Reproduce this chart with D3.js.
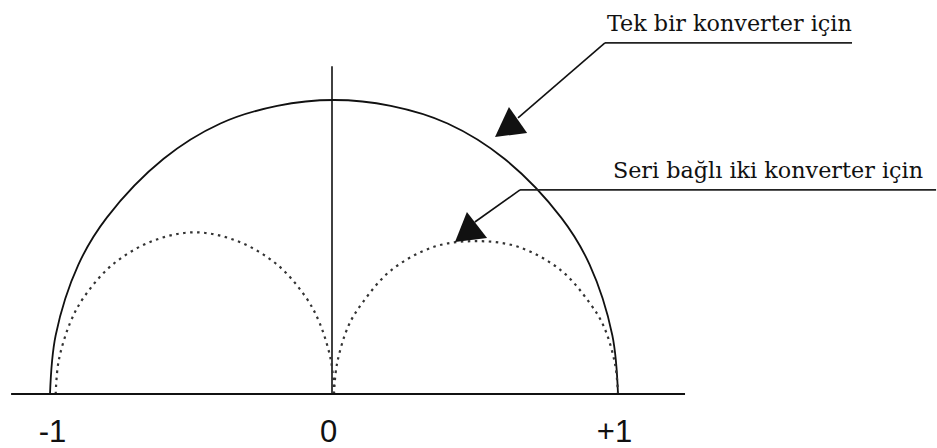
<!DOCTYPE html>
<html>
<head>
<meta charset="utf-8">
<script src="https://cdn.jsdelivr.net/npm/d3@7"></script>
<style>
  body { margin: 0; background: #fff; }
  .tick text { font-family: "Liberation Sans", Arial, sans-serif; font-size: 31px; fill: #111; }
  .note { font-family: "DejaVu Serif", serif; font-size: 22.3px; fill: #111; }
</style>
</head>
<body>
<svg id="chart" width="937" height="448"></svg>
<script>
// P (active power, pu) and Q (reactive power, pu)
let singleP = [-1, -0.98, -0.9, -0.8, -0.6, -0.4, -0.2, 0, 0.2, 0.4, 0.6, 0.8, 0.9, 0.98, 1]
let singleQ = [0, 0.2, 0.44, 0.6, 0.8, 0.92, 0.98, 1, 0.98, 0.92, 0.8, 0.6, 0.44, 0.2, 0]

let seriesLeftP = [-0.98, -0.97, -0.93, -0.88, -0.78, -0.64, -0.49, -0.34, -0.2, -0.1, -0.05, -0.01, 0]
let seriesLeftQ = [0, 0.11, 0.24, 0.33, 0.44, 0.52, 0.55, 0.52, 0.44, 0.33, 0.24, 0.11, 0]
let seriesRightP = [0, 0.01, 0.05, 0.1, 0.2, 0.35, 0.5, 0.65, 0.8, 0.9, 0.95, 0.99, 1]
let seriesRightQ = [0, 0.10, 0.23, 0.31, 0.42, 0.50, 0.52, 0.50, 0.42, 0.31, 0.23, 0.10, 0]

let tickValues = [-1, 0, 1]
let tickLabels = ["-1", "0", "+1"]
let noteLabels = ["Tek bir konverter için", "Seri bağlı iki konverter için"]

let svg = d3.select("#chart")
let xScale = d3.scaleLinear().domain([-1, 1]).range([50, 618])
let yScale = d3.scaleLinear().domain([0, 1]).range([394, 100])

let line = d3.line()
    .x(d => xScale(d[0]))
    .y(d => yScale(d[1]))
    .curve(d3.curveCatmullRom)

// vertical axis
svg.append("line")
    .attr("x1", xScale(0) - 2).attr("x2", xScale(0) - 2)
    .attr("y1", yScale(0)).attr("y2", yScale(1.115))
    .attr("stroke", "#111").attr("stroke-width", 1.6)

// curves
svg.append("path")
    .datum(d3.zip(singleP, singleQ))
    .attr("d", line)
    .attr("fill", "none").attr("stroke", "#111").attr("stroke-width", 1.8)

let dotted = [d3.zip(seriesLeftP, seriesLeftQ), d3.zip(seriesRightP, seriesRightQ)]
svg.selectAll(".dotted")
    .data(dotted)
    .enter()
    .append("path")
    .attr("class", "dotted")
    .attr("d", line)
    .attr("fill", "none").attr("stroke", "#333")
    .attr("stroke-width", 2.2)
    .attr("stroke-dasharray", "2.5,4.5")

// horizontal axis
let x_axis = d3.axisBottom(xScale)
    .tickValues(tickValues)
    .tickFormat((d, i) => tickLabels[i])
    .tickSize(0)
    .tickPadding(26)
let gx = svg.append("g")
    .attr("transform", `translate(0,${yScale(0)})`)
    .call(x_axis)
gx.select(".domain").remove()
// hand-lettered labels sit a little off the tick positions
gx.selectAll(".tick text").attr("dx", (d, i) => [2, -6, -4][i])

svg.append("line")
    .attr("x1", xScale(-1.137)).attr("x2", xScale(1.236))
    .attr("y1", yScale(0)).attr("y2", yScale(0))
    .attr("stroke", "#111").attr("stroke-width", 2)

// annotations: text start, underline span and height, arrow end, arrowhead triangle
let notes = [
    {tx: 0.961, ty: 1.235, u0: 0.954, u1: 1.824, uy: 1.194, end: [0.648, 0.939],
     tri: [[0.616, 0.976], [0.567, 0.874], [0.680, 0.888]]},
    {tx: 0.982, ty: 0.735, u0: 0.655, u1: 2.12, uy: 0.694, end: [0.496, 0.585],
     tri: [[0.468, 0.619], [0.426, 0.517], [0.539, 0.531]]}
]
notes.forEach((n, i) => {
    svg.append("text")
        .attr("class", "note")
        .attr("x", xScale(n.tx)).attr("y", yScale(n.ty))
        .text(noteLabels[i])
    svg.append("line")
        .attr("x1", xScale(n.u0)).attr("x2", xScale(n.u1))
        .attr("y1", yScale(n.uy)).attr("y2", yScale(n.uy))
        .attr("stroke", "#222").attr("stroke-width", 1.8)
    svg.append("line")
        .attr("x1", xScale(n.u0)).attr("y1", yScale(n.uy))
        .attr("x2", xScale(n.end[0])).attr("y2", yScale(n.end[1]))
        .attr("stroke", "#111").attr("stroke-width", 1.6)
    svg.append("path")
        .attr("d", "M" + n.tri.map(p => `${xScale(p[0])},${yScale(p[1])}`).join("L") + "Z")
        .attr("fill", "#111")
})
</script>
</body>
</html>
